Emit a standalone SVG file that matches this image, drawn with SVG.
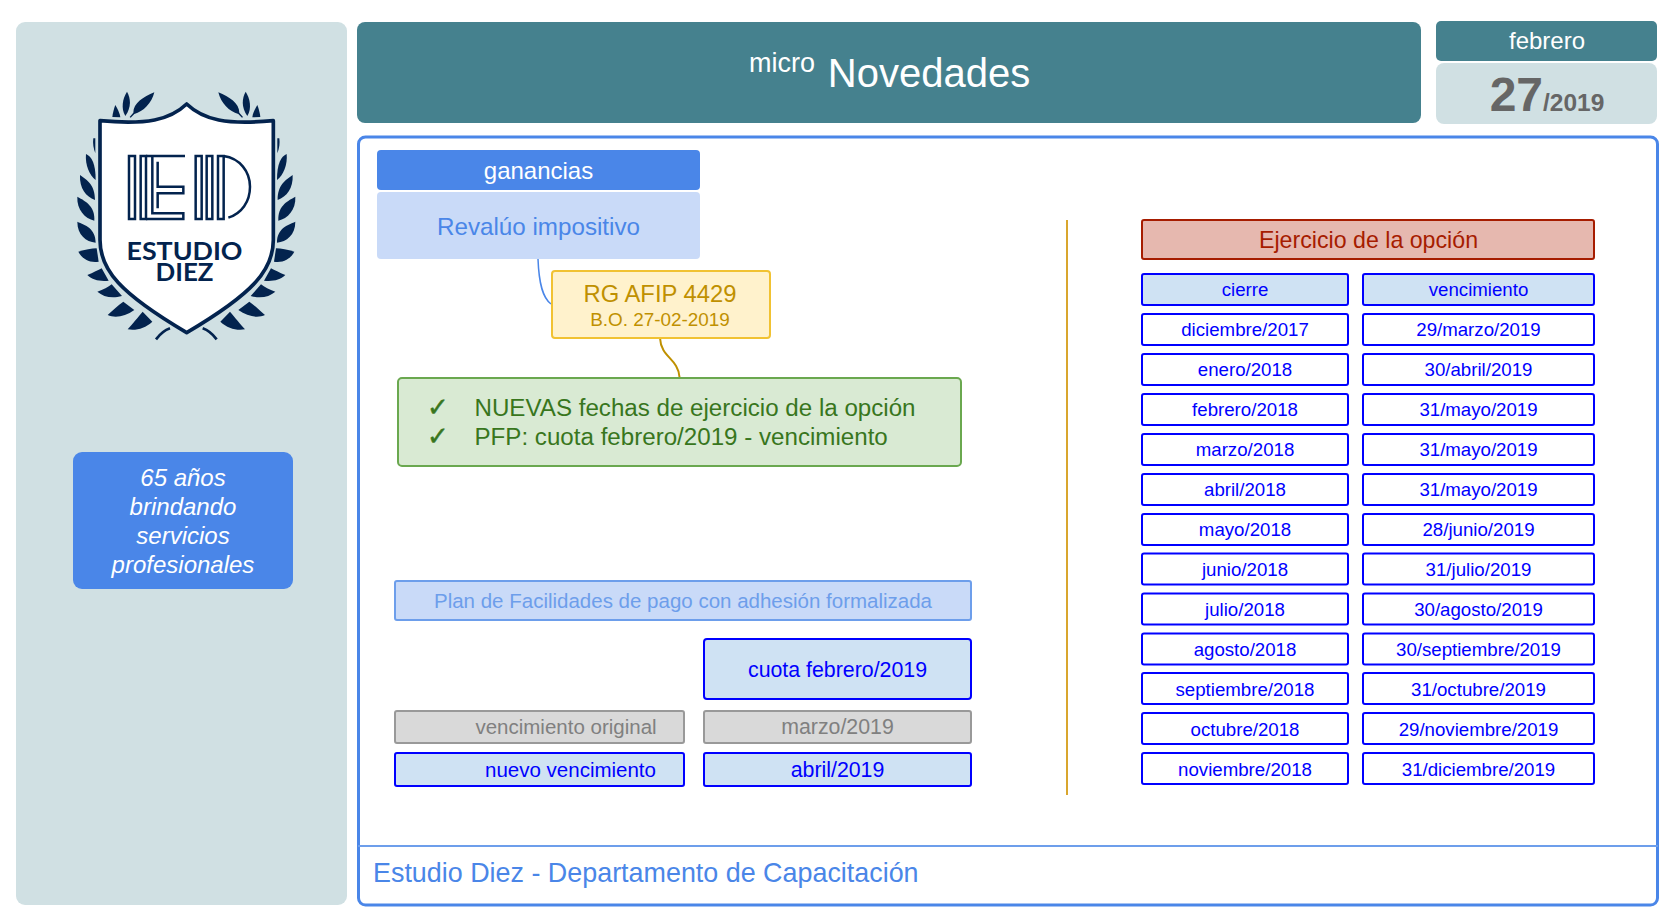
<svg xmlns="http://www.w3.org/2000/svg" width="1677" height="921" viewBox="0 0 1677 921">
<style>
text{font-family:"Liberation Sans",Arial,Helvetica,sans-serif;text-anchor:middle}
.w{fill:#fff}
.cell rect{fill:#fff;stroke:#00f;stroke-width:2}
.cell text{fill:#00f;font-size:18.67px}
.cell.h rect{fill:#cfe2f3}
.blue rect{fill:#cfe2f3;stroke:#00f;stroke-width:2}
.blue text{fill:#00f;font-size:21.33px}
.gray rect{fill:#d9d9d9;stroke:#999;stroke-width:2}
.gray text{fill:#808080;font-size:21.33px}
.leaf{fill:#03234e}
.line{fill:none;stroke:#03234e;stroke-width:7.5}
.brand{font-family:Lato,"Liberation Sans",sans-serif;font-weight:bold;fill:#03234e}
.chk{font-family:"DejaVu Sans",sans-serif;font-size:26px;stroke:#38761d;stroke-width:.5}
</style>
<defs>
<g id="leaves" class="leaf">
<path d="M280,415 L286,415 L286,460 C280,445 278,430 280,415Z"/>
<path d="M258,462 C275,470 287,490 287,540 C268,525 255,495 258,462Z"/>
<path d="M240,525 C262,540 285,555 285,600 C258,590 238,565 240,525Z"/>
<path d="M232,590 C260,605 285,620 283,662 C255,655 230,630 232,590Z"/>
<path d="M232,665 C255,675 287,685 287,728 C258,725 232,705 232,665Z"/>
<path d="M235,755 C255,750 275,745 290,745 L296,785 C268,790 245,775 235,755Z"/>
<path d="M262,825 C280,818 295,810 305,805 L326,842 C300,845 278,840 262,825Z"/>
<path d="M292,875 C310,870 325,860 335,853 L366,888 C335,897 310,890 292,875Z"/>
<path d="M323,945 C340,930 355,915 370,905 L403,930 C375,950 345,955 323,945Z"/>
<path d="M383,988 C395,975 415,950 428,935 L457,965 C435,985 410,992 383,988Z"/>
<path d="M346,315 C352,325 360,340 361,352 L337,351 C338,340 342,325 346,315Z"/>
<path d="M381,275 C392,295 395,320 376,348 C362,325 368,295 381,275Z"/>
<path d="M463,277 C455,310 430,335 403,342 L392,353 L389,351 L400,338 C400,310 430,290 463,277Z"/>
<path d="M468,1018 C478,1005 490,992 510,985" fill="none" stroke="#03234e" stroke-width="8"/>
</g>
</defs>

<g id="panel"><rect x="16" y="22" width="331" height="883" rx="9" fill="#d0e0e3"/></g>

<g id="logo">
<g transform="scale(.33333)">
<use href="#leaves"/>
<use href="#leaves" transform="translate(1118,0) scale(-1,1)"/>
<path d="M560,312 C510,360 440,375 300,362 L300,720 C300,810 360,880 560,998 C760,880 820,810 820,720 L820,362 C680,375 610,360 560,312Z" fill="#fff" stroke="#03234e" stroke-width="11" stroke-linejoin="round"/>
</g>
<g transform="translate(120,145) scale(.33333)">
<path class="line" d="M27,33 H45 V222 H27Z"/>
<path class="line" d="M62,33 H78 V222 H62Z"/>
<path class="line" d="M78,33 H195 M97,33 V205 H190 V222 H78 M113,50 V125 H190 V145 H113 V190"/>
<path class="line" d="M227,33 H245 V222 H227Z"/>
<path class="line" d="M260,33 H277 V222 H260Z"/>
<path class="line" d="M294,33 H311 V222 H294Z M311,33 C360,40 390,80 390,125 C390,170 365,205 325,218"/>
</g>
<text x="184.500" y="260" class="brand" font-size="25" textLength="116" lengthAdjust="spacingAndGlyphs">ESTUDIO</text>
<text x="184.500" y="281" class="brand" font-size="25" textLength="58" lengthAdjust="spacingAndGlyphs">DIEZ</text>
</g>

<g id="badge">
<rect x="73" y="452" width="220" height="137" rx="9" fill="#4a86e8"/>
<g class="w" font-size="24" font-style="italic">
<text x="183" y="486">65 años</text>
<text x="183" y="515">brindando</text>
<text x="183" y="544">servicios</text>
<text x="183" y="573">profesionales</text>
</g>
</g>

<g id="header">
<rect x="357" y="22" width="1064" height="101" rx="8" fill="#45818e"/>
<text x="782" y="72" font-size="27" class="w">micro</text>
<text x="929" y="87" font-size="40" class="w">Novedades</text>
</g>

<g id="month">
<rect x="1436" y="21" width="221" height="40" rx="5" fill="#45818e"/>
<text x="1547" y="49" font-size="24" class="w">febrero</text>
</g>
<g id="date">
<rect x="1436" y="63" width="221" height="61" rx="8" fill="#d0e0e3"/>
<text x="1547" y="111" fill="#666" font-weight="bold"><tspan font-size="48">27</tspan><tspan font-size="24.500">/2019</tspan></text>
</g>

<g id="frame">
<rect x="358.500" y="137" width="1299" height="768" rx="7" fill="#fff" stroke="#4a86e8" stroke-width="3"/>
<line x1="358" y1="846" x2="1658" y2="846" stroke="#6d9eeb" stroke-width="2"/>
<text x="373" y="881.500" font-size="26.900" fill="#4a86e8" style="text-anchor:start">Estudio Diez - Departamento de Capacitación</text>
</g>

<g id="connectors" fill="none">
<path d="M538,259 C539,285 543,298 551,304" stroke="#4a86e8" stroke-width="1.500"/>
<path d="M660,338 C661,358 678,358 679.500,377" stroke="#bf9000" stroke-width="2"/>
<line x1="1067" y1="220" x2="1067" y2="795" stroke="#d9a62e" stroke-width="2"/>
</g>

<g id="ganancias">
<rect x="377" y="150" width="323" height="40" rx="4" fill="#4a86e8"/>
<text x="538.500" y="178.500" font-size="24" class="w">ganancias</text>
</g>
<g id="revaluo">
<rect x="377" y="192" width="323" height="67" rx="4" fill="#c9daf8"/>
<text x="538.500" y="234.500" font-size="24.200" fill="#4a86e8">Revalúo impositivo</text>
</g>
<g id="rg">
<rect x="552" y="271" width="218" height="67" rx="3" fill="#fff2cc" stroke="#f1c232" stroke-width="2"/>
<text x="660" y="302" font-size="23.800" fill="#bf9000">RG AFIP 4429</text>
<text x="660" y="326" font-size="18.900" fill="#bf9000">B.O. 27-02-2019</text>
</g>
<g id="puntos">
<rect x="398" y="378" width="563" height="88" rx="4" fill="#d9ead3" stroke="#6aa84f" stroke-width="2"/>
<g fill="#38761d" font-size="24.150">
<text x="438" y="416" class="chk">✓</text>
<text x="474.500" y="416" style="text-anchor:start">NUEVAS fechas de ejercicio de la opción</text>
<text x="438" y="445" class="chk">✓</text>
<text x="474.500" y="445" style="text-anchor:start">PFP: cuota febrero/2019 - vencimiento</text>
</g>
</g>

<g id="plan">
<rect x="395" y="581" width="576" height="39" rx="2" fill="#c9daf8" stroke="#6d9eeb" stroke-width="2"/>
<text x="683" y="608" font-size="20.500" fill="#6d9eeb">Plan de Facilidades de pago con adhesión formalizada</text>
</g>
<g id="cuota" class="blue"><rect x="704" y="639" width="267" height="60" rx="3"/><text x="837.500" y="677">cuota febrero/2019</text></g>
<g id="venc-orig" class="gray"><rect x="395" y="711" width="289" height="32" rx="2"/><text x="566" y="734" style="font-size:20.500px">vencimiento original</text></g>
<g id="marzo" class="gray"><rect x="704" y="711" width="267" height="32" rx="2"/><text x="837.500" y="734">marzo/2019</text></g>
<g id="venc-nuevo" class="blue"><rect x="395" y="753" width="289" height="33" rx="2"/><text x="570.500" y="777" style="font-size:20.500px">nuevo vencimiento</text></g>
<g id="abril" class="blue"><rect x="704" y="753" width="267" height="33" rx="2"/><text x="837.500" y="777">abril/2019</text></g>

<g id="opcion">
<rect x="1142" y="220" width="452" height="39" rx="2" fill="#e6b8af" stroke="#a61c00" stroke-width="2"/>
<text x="1368.500" y="248" font-size="23.200" fill="#a61c00">Ejercicio de la opción</text>
</g>

<g id="h1" class="cell h"><rect x="1142" y="274" width="206" height="31" rx="2"/><text x="1245" y="296">cierre</text></g>
<g id="h2" class="cell h"><rect x="1363" y="274" width="231" height="31" rx="2"/><text x="1478.500" y="296">vencimiento</text></g>
<g id="a1" class="cell"><rect x="1142" y="314" width="206" height="31" rx="2"/><text x="1245" y="336">diciembre/2017</text></g>
<g id="b1" class="cell"><rect x="1363" y="314" width="231" height="31" rx="2"/><text x="1478.500" y="336">29/marzo/2019</text></g>
<g id="a2" class="cell"><rect x="1142" y="354" width="206" height="31" rx="2"/><text x="1245" y="376">enero/2018</text></g>
<g id="b2" class="cell"><rect x="1363" y="354" width="231" height="31" rx="2"/><text x="1478.500" y="376">30/abril/2019</text></g>
<g id="a3" class="cell"><rect x="1142" y="394" width="206" height="31" rx="2"/><text x="1245" y="416">febrero/2018</text></g>
<g id="b3" class="cell"><rect x="1363" y="394" width="231" height="31" rx="2"/><text x="1478.500" y="416">31/mayo/2019</text></g>
<g id="a4" class="cell"><rect x="1142" y="434" width="206" height="31" rx="2"/><text x="1245" y="456">marzo/2018</text></g>
<g id="b4" class="cell"><rect x="1363" y="434" width="231" height="31" rx="2"/><text x="1478.500" y="456">31/mayo/2019</text></g>
<g id="a5" class="cell"><rect x="1142" y="474" width="206" height="31" rx="2"/><text x="1245" y="496">abril/2018</text></g>
<g id="b5" class="cell"><rect x="1363" y="474" width="231" height="31" rx="2"/><text x="1478.500" y="496">31/mayo/2019</text></g>
<g id="a6" class="cell"><rect x="1142" y="514" width="206" height="31" rx="2"/><text x="1245" y="536">mayo/2018</text></g>
<g id="b6" class="cell"><rect x="1363" y="514" width="231" height="31" rx="2"/><text x="1478.500" y="536">28/junio/2019</text></g>
<g id="a7" class="cell"><rect x="1142" y="553.500" width="206" height="31" rx="2"/><text x="1245" y="576">junio/2018</text></g>
<g id="b7" class="cell"><rect x="1363" y="553.500" width="231" height="31" rx="2"/><text x="1478.500" y="576">31/julio/2019</text></g>
<g id="a8" class="cell"><rect x="1142" y="593.500" width="206" height="31" rx="2"/><text x="1245" y="616">julio/2018</text></g>
<g id="b8" class="cell"><rect x="1363" y="593.500" width="231" height="31" rx="2"/><text x="1478.500" y="616">30/agosto/2019</text></g>
<g id="a9" class="cell"><rect x="1142" y="633.500" width="206" height="31" rx="2"/><text x="1245" y="656">agosto/2018</text></g>
<g id="b9" class="cell"><rect x="1363" y="633.500" width="231" height="31" rx="2"/><text x="1478.500" y="656">30/septiembre/2019</text></g>
<g id="a10" class="cell"><rect x="1142" y="673" width="206" height="31" rx="2"/><text x="1245" y="696">septiembre/2018</text></g>
<g id="b10" class="cell"><rect x="1363" y="673" width="231" height="31" rx="2"/><text x="1478.500" y="696">31/octubre/2019</text></g>
<g id="a11" class="cell"><rect x="1142" y="713" width="206" height="31" rx="2"/><text x="1245" y="736">octubre/2018</text></g>
<g id="b11" class="cell"><rect x="1363" y="713" width="231" height="31" rx="2"/><text x="1478.500" y="736">29/noviembre/2019</text></g>
<g id="a12" class="cell"><rect x="1142" y="753" width="206" height="31" rx="2"/><text x="1245" y="776">noviembre/2018</text></g>
<g id="b12" class="cell"><rect x="1363" y="753" width="231" height="31" rx="2"/><text x="1478.500" y="776">31/diciembre/2019</text></g>
</svg>
